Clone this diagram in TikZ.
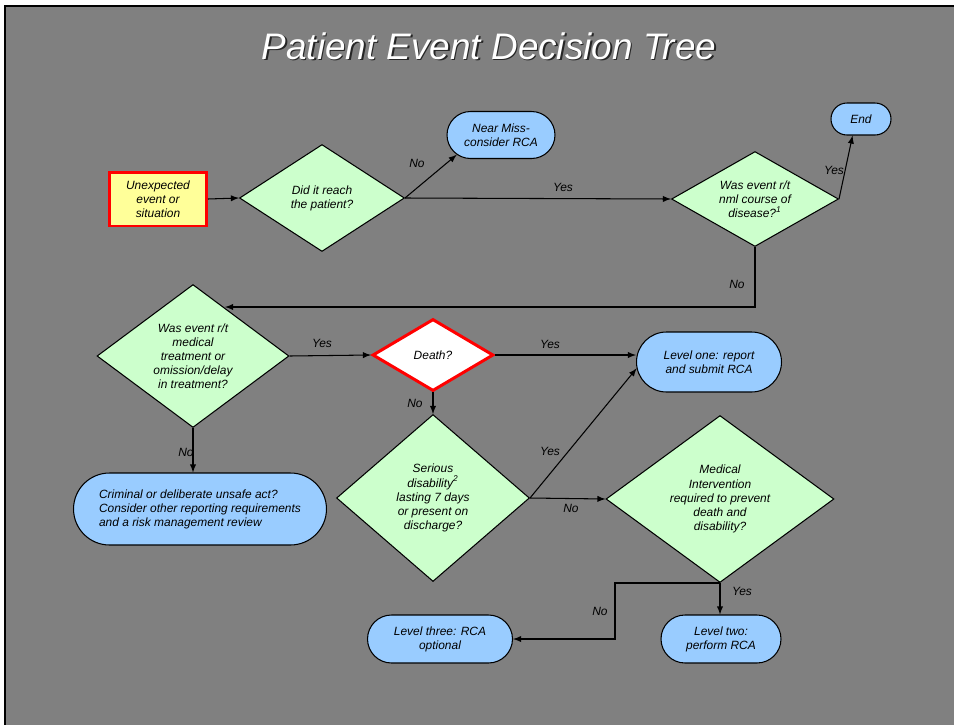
\documentclass[tikz,border=0pt]{standalone}
\usepackage{fontspec}
\setmainfont{Liberation Sans}
\usetikzlibrary{arrows,shapes.geometric,shapes.misc}

\definecolor{slidegray}{HTML}{808080}
\definecolor{qgreen}{HTML}{CCFFCC}
\definecolor{outblue}{HTML}{99CCFF}
\definecolor{startyellow}{HTML}{FFFF99}

\newcommand{\nodetextfont}{\itshape\fontsize{6.8}{8}\selectfont}
\newcommand{\slidetitlefont}{\itshape\fontsize{21}{24}\selectfont}

\tikzset{
	question/.style={diamond, draw=black, line width=0.6pt, fill=qgreen, align=center, inner sep=0pt, font=\nodetextfont},
	outcome/.style={rounded rectangle, draw=black, line width=0.6pt, fill=outblue, align=center, inner sep=0pt, font=\nodetextfont},
	startbox/.style={rectangle, draw=red, line width=1.7pt, fill=startyellow, align=center, inner sep=0pt, font=\nodetextfont},
	answer/.style={inner sep=0pt, font=\nodetextfont},
	flow/.style={-latex, line width=0.6pt}
}

\begin{document}
\begin{tikzpicture}[x=0.02cm, y=-0.02cm]
					\useasboundingbox (0,0) rectangle (954,724);
					\fill[white] (0,0) rectangle (954,724);
					\filldraw[fill=slidegray, draw=black, line width=1.6pt] (5,6) rectangle (990,760);
					% title
					\node[text=black!85, font=\slidetitlefont] (titleshadow) at (490.5,47.5) {Patient Event Decision Tree};
					\node[text=white, font=\slidetitlefont] (title) at (489,46) {Patient Event Decision Tree};
					% top row
					\node[startbox, minimum width=1.94cm, minimum height=1.08cm] (start) at (158,199) {Unexpected\\event or\\situation};
					\node[question, minimum width=3.3cm, minimum height=2.14cm, aspect=1.54] (reach) at (322,198) {Did it reach\\the patient?};
					\node[outcome, minimum width=2.16cm, minimum height=0.94cm] (nearmiss) at (501,135) {Near Miss-\\consider RCA};
					\node[question, minimum width=3.34cm, minimum height=1.9cm, aspect=1.76] (nml) at (755,199) {Was event r/t\\nml course of\\disease?\textsuperscript{1}};
					\node[outcome, minimum width=1.2cm, minimum height=0.64cm] (end) at (861,119) {End};
					% middle row
					\node[question, minimum width=3.84cm, minimum height=2.86cm, aspect=1.34] (treat) at (193,356) {Was event r/t\\medical\\treatment or\\omission/delay\\in treatment?};
					\node[question, fill=white, draw=red, line width=1.7pt, minimum width=2.42cm, minimum height=1.44cm, aspect=1.68] (death) at (433,355) {Death?};
					\node[outcome, minimum width=2.9cm, minimum height=1.2cm] (levelone) at (709,362) {Level one: report\\and submit RCA};
					% lower rows
					\node[outcome, minimum width=5.06cm, minimum height=1.44cm, align=left] (criminal) at (200,509) {Criminal or deliberate unsafe act?\\Consider other reporting requirements\\and a risk management review};
					\node[question, minimum width=3.86cm, minimum height=3.34cm, aspect=1.16] (serious) at (433,498) {Serious\\disability\textsuperscript{2}\\lasting 7 days\\or present on\\discharge?};
					\node[question, minimum width=4.56cm, minimum height=3.34cm, aspect=1.37] (medical) at (720,499) {Medical\\Intervention\\required to prevent\\death and\\disability?};
					\node[outcome, minimum width=2.9cm, minimum height=0.96cm] (levelthree) at (440,639) {Level three: RCA\\optional};
					\node[outcome, minimum width=2.4cm, minimum height=0.96cm] (leveltwo) at (721,639) {Level two:\\perform RCA};
					\coordinate (treatin) at (225,307);
					\coordinate (elbow) at (615,639);
					% connectors
					\draw[flow] (start.east) -- (reach.west);
					\draw[flow] (reach.east) -- (nearmiss.204);
					\draw[flow] (reach.east) -- (nml.west);
					\draw[flow] (nml.east) -- (end.243);
					\draw[flow] (nml.south) |- (treatin);
					\draw[flow] (treat.east) -- (death.west);
					\draw[flow] (death.east) -- (death.east -| levelone.west);
					\draw[flow] (death.south) -- (serious.north);
					\draw[flow] (serious.east) -- (levelone.185);
					\draw[flow] (serious.east) -- (medical.west);
					\draw[flow] (medical.south) -- (medical.south |- leveltwo.north);
					\draw[flow] (medical.south) -| (elbow) -- (levelthree.east);
					\draw[flow] (treat.south) -- (treat.south |- criminal.north);
					% answers
					\node[answer] (reachno) at (417,163) {No};
					\node[answer] (reachyes) at (563,187) {Yes};
					\node[answer] (nmlyes) at (834,170) {Yes};
					\node[answer] (nmlno) at (737,284) {No};
					\node[answer] (treatyes) at (322,343) {Yes};
					\node[answer] (treatno) at (186,452) {No};
					\node[answer] (deathyes) at (550,344) {Yes};
					\node[answer] (deathno) at (415,403) {No};
					\node[answer] (seriousyes) at (550,451) {Yes};
					\node[answer] (seriousno) at (571,508) {No};
					\node[answer] (medicalyes) at (742,591) {Yes};
					\node[answer] (medicalno) at (600,611) {No};
				\end{tikzpicture}
\end{document}
